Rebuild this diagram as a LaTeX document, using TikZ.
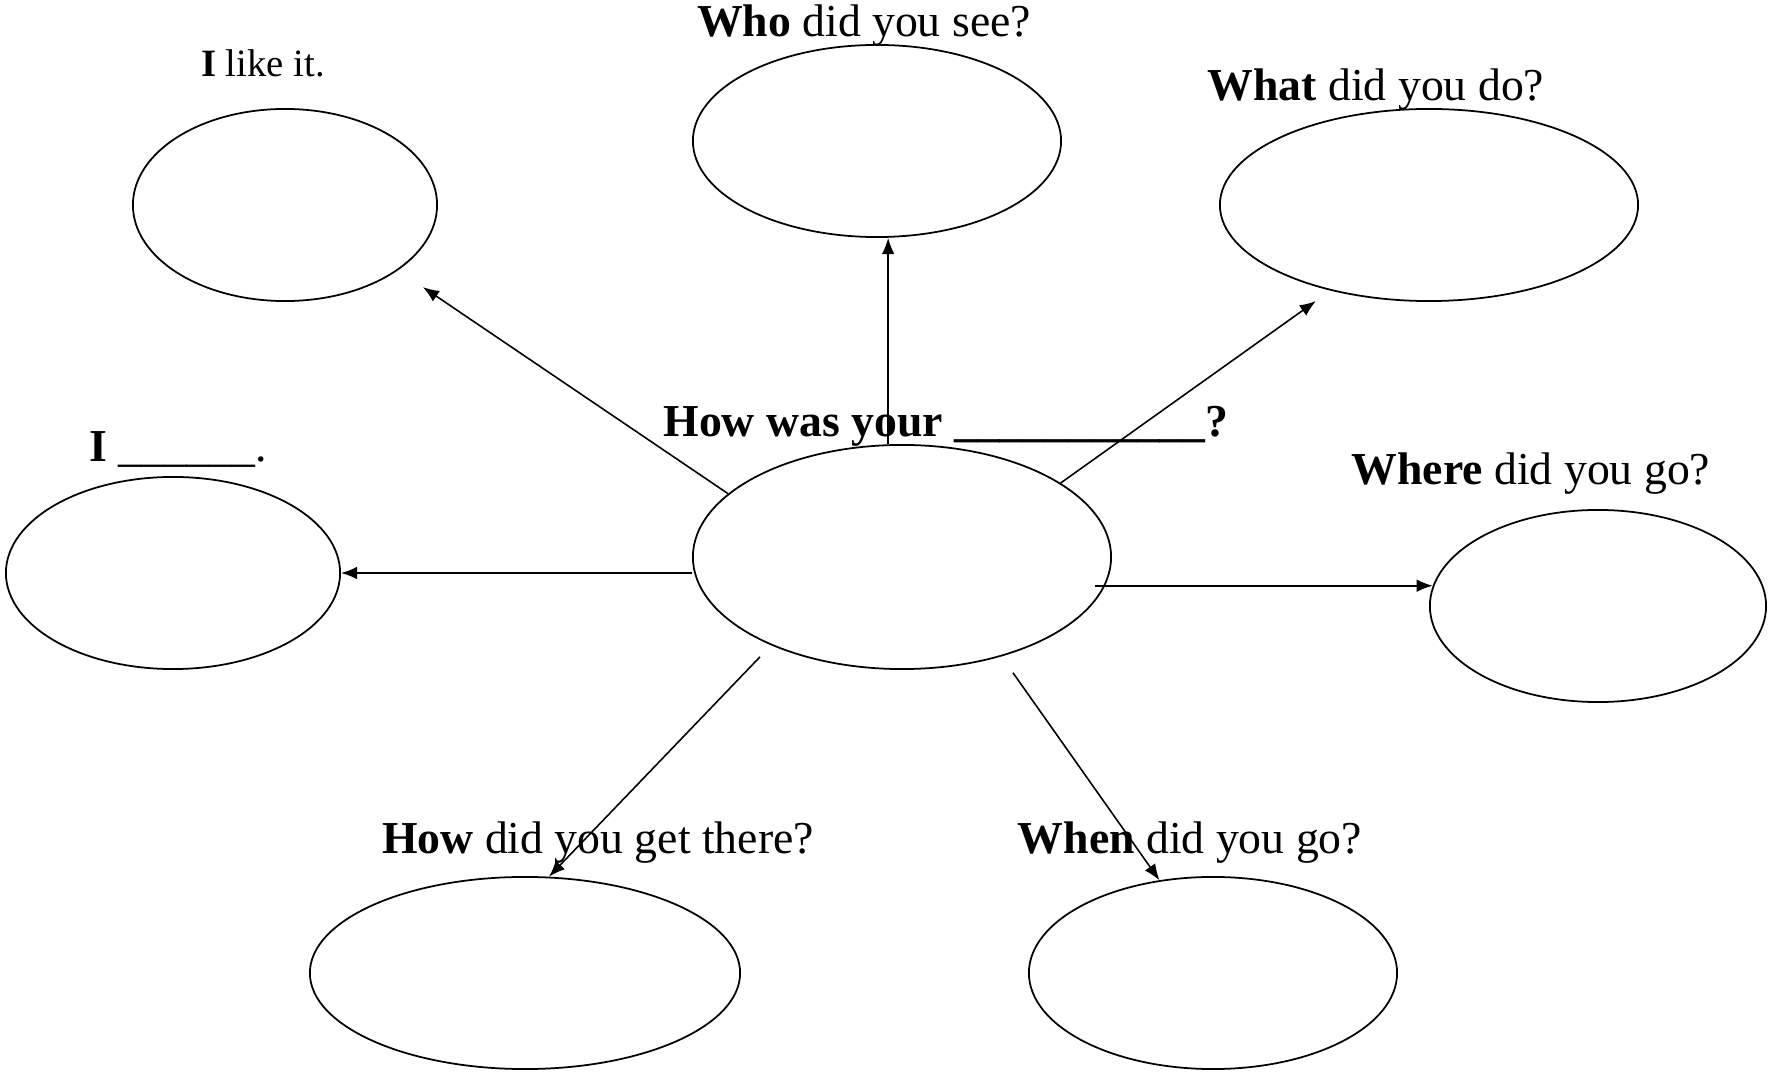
\documentclass[tikz,border=0pt]{standalone}
\usepackage{fontspec}
\setmainfont{Liberation Serif}
\usetikzlibrary{arrows.meta,positioning,shapes.geometric}

\begin{document}
\begin{tikzpicture}[
    x=0.01cm, y=-0.01cm,
    bubble/.style={draw,ellipse,inner sep=0pt,minimum height=1.92cm,line width=0.5pt},
    qtext/.style={inner sep=0pt,font=\fontsize{13}{15}\selectfont},
    arr/.style={-{Latex[length=4.6pt,width=3.6pt]},line width=0.45pt}
]
\useasboundingbox (0,0) rectangle (1768,1073);
\node[bubble,minimum width=4.18cm,minimum height=2.24cm] (hub) at (902,557) {};
\node[bubble,minimum width=3.04cm] (like) at (285,205) {};
\node[bubble,minimum width=3.68cm] (who) at (877,141) {};
\node[bubble,minimum width=4.18cm] (what) at (1429,205) {};
\node[bubble,minimum width=3.34cm] (me) at (173,573) {};
\node[bubble,minimum width=3.36cm] (where) at (1598,606) {};
\node[bubble,minimum width=4.30cm] (how) at (525,973) {};
\node[bubble,minimum width=3.68cm] (when) at (1213,973) {};
% questions
\node[qtext,above=0.08cm of hub,anchor=base,xshift=0.44cm] (hubq) {\textbf{How was your \_\_\_\_\_\_\_\_\_\_\_?}};
\node[qtext,above=0.32cm of like,anchor=base,xshift=-0.22cm,font=\fontsize{11}{13}\selectfont] (likeq) {\textbf{I} like it.};
\node[qtext,above=0.08cm of who,anchor=base,xshift=-0.13cm] (whoq) {\textbf{Who} did you see?};
\node[qtext,above=0.08cm of what,anchor=base,xshift=-0.53cm] (whatq) {\textbf{What} did you do?};
\node[qtext,above=0.15cm of me,anchor=base,xshift=0.05cm] (meq) {\textbf{I} \_\_\_\_\_\_.};
\node[qtext,above=0.25cm of where,anchor=base,xshift=-0.67cm] (whereq) {\textbf{Where} did you go?};
\node[qtext,above=0.23cm of how,anchor=base,xshift=0.73cm] (howq) {\textbf{How} did you get there?};
\node[qtext,above=0.23cm of when,anchor=base,xshift=-0.23cm] (whenq) {\textbf{When} did you go?};
% arrows
\draw[arr,shorten >=0.3cm] (hub.160) -- (like.-30);
\draw[arr] (hub.97) -- (hub.97 |- who.south);
\draw[arr,shorten >=0.18cm] (hub.25) -- (what.221);
\draw[arr] (me.east -| hub.west) -- (me.east);
\draw[arr,shorten <=-0.17cm] (where.173 -| hub.east) -- (where.173);
\draw[arr,shorten <=0.16cm] (hub.214) -- (how.76);
\draw[arr,shorten <=0.2cm] (hub.-45) -- (when.120);
\end{tikzpicture}
\end{document}
